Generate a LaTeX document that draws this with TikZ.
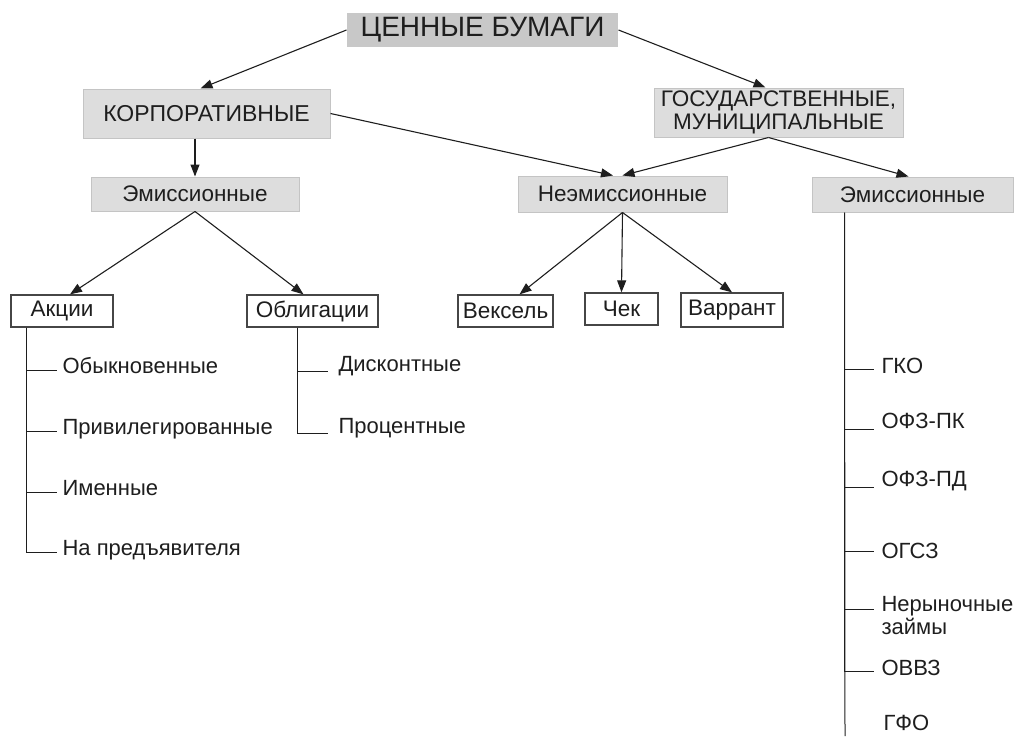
\documentclass[tikz,border=0pt]{standalone}
\usepackage{fontspec}
\setmainfont{Liberation Sans}
\usepackage{xcolor}
\usepackage{tikz}
\usetikzlibrary{arrows.meta,positioning}

\definecolor{boxgrey}{RGB}{221,221,221}
\definecolor{rootgrey}{RGB}{200,200,200}
\definecolor{edgegrey}{RGB}{196,196,196}
\definecolor{boxline}{RGB}{70,70,70}
\definecolor{ink}{RGB}{30,30,30}

\begin{document}
\begin{tikzpicture}[->,>={Triangle[length=12pt,width=9pt]},x=1pt,y=-1pt,
                    line width=1.1pt,color=ink]
  \tikzstyle{kind}=[fill=boxgrey,draw=edgegrey,line width=1pt,inner sep=0pt,
                    minimum height=34pt,font=\fontsize{22.5}{23}\selectfont]
  \tikzstyle{paper}=[fill=white,draw=boxline,line width=1.3pt,inner sep=0pt,
                    minimum height=32pt,font=\fontsize{22.5}{23}\selectfont]
  \tikzstyle{leaf}=[anchor=base west,inner xsep=7pt,inner ysep=0pt,
                    font=\fontsize{22}{23}\selectfont]
  \tikzstyle{twig}=[-,line width=1pt]

  \useasboundingbox (0,0) rectangle (1017,736);

  \node[kind] (Root)  [fill=rootgrey,draw=none,minimum width=271pt,
                       font=\fontsize{28}{29}\selectfont] at (482.5,30) {ЦЕННЫЕ БУМАГИ};
  \node[kind] (Corp)  [minimum width=247pt,minimum height=49pt,
                       font=\fontsize{23}{23}\selectfont] at (206.5,113.5) {КОРПОРАТИВНЫЕ};
  \node[kind] (Gov)   [minimum width=249pt,minimum height=49pt,align=center,
                       font=\fontsize{22.5}{23}\selectfont] at (778.5,112.5) {ГОСУДАРСТВЕННЫЕ,\\МУНИЦИПАЛЬНЫЕ};
  \node[kind] (EmisL) [minimum width=208pt] at (195,194) {Эмиссионные};
  \node[kind] (Neem)  [minimum width=209pt,minimum height=36pt] at (622.5,194) {Неэмиссионные};
  \node[kind] (EmisR) [minimum width=201pt,minimum height=35pt] at (912.5,194.5) {Эмиссионные};

  \node[paper] (Aktsii)  [minimum width=102pt] at (62,311) {Акции};
  \node[paper] (Oblig)   [minimum width=131pt] at (312.5,311) {Облигации};
  \node[paper] (Veksel)  [minimum width=95pt] at (505.5,311) {Вексель};
  \node[paper] (Chek)    [minimum width=73pt] at (621.5,309) {Чек};
  \node[paper] (Varrant) [minimum width=102pt,minimum height=34pt] at (732,310) {Варрант};

  \path (Root.west) edge ([xshift=-6pt]Corp.north)
        (Root.east) edge ([xshift=-13pt]Gov.north)
        (Corp.south -| EmisL.north) edge (EmisL.north)
        (Corp.east) edge ([xshift=-9.5pt]Neem.north)
        ([xshift=-10pt]Gov.south) edge (Neem.north)
            edge ([xshift=-4pt]EmisR.north)
        (EmisL.south) edge ([xshift=8pt]Aktsii.north)
            edge ([xshift=-9pt]Oblig.north)
        (Neem.south) edge ([xshift=14pt]Veksel.north)
            edge (Chek.north)
            edge (Varrant.north);

  % shares
  \coordinate (aTrunk) at ([xshift=16pt]Aktsii.south west);
  \foreach \n/\yb/\t in {Obyk/373/Обыкновенные, Priv/434/Привилегированные,
                         Imen/495/Именные, Pred/555/На предъявителя}
  {
    \node[leaf] (\n) [inner xsep=5pt] at (57,\yb) {\t};
    \draw[twig] (aTrunk) |- ([yshift=3pt]\n.base west);
  }

  % bonds
  \coordinate (oTrunk) at ([xshift=51pt]Oblig.south west);
  \foreach \n/\yb/\t in {Disk/371/Дисконтные, Proc/433/Процентные}
  {
    \node[leaf] (\n) [inner xsep=10pt] at (328,\yb) {\t};
    \draw[twig] (oTrunk) |- (\n.base west);
  }

  % state papers
  \coordinate (rTrunk) at ([xshift=33pt]EmisR.south west);
  \coordinate (rEnd) at (845,736);
  \draw[twig] (rTrunk) -- (rEnd);
  \foreach \n/\yb/\dy/\t in {Gko/373/4pt/ГКО, OfzPk/428/-1pt/ОФЗ-ПК,
                             OfzPd/486/-1pt/ОФЗ-ПД, Ogsz/558/7pt/ОГСЗ,
                             Ovvz/675/4pt/ОВВЗ}
  {
    \node[leaf] (\n) at (874,\yb) {\t};
    \draw[twig] (rTrunk) |- ([yshift=\dy]\n.base west);
  }
  \node[leaf] (Nery) [anchor=west,align=left] at (874,616) {Нерыночные\\займы};
  \draw[twig] (rTrunk) |- ([yshift=7pt]Nery.west);
  \node[leaf] (Gfo) at (876,730) {ГФО};
\end{tikzpicture}
\end{document}
